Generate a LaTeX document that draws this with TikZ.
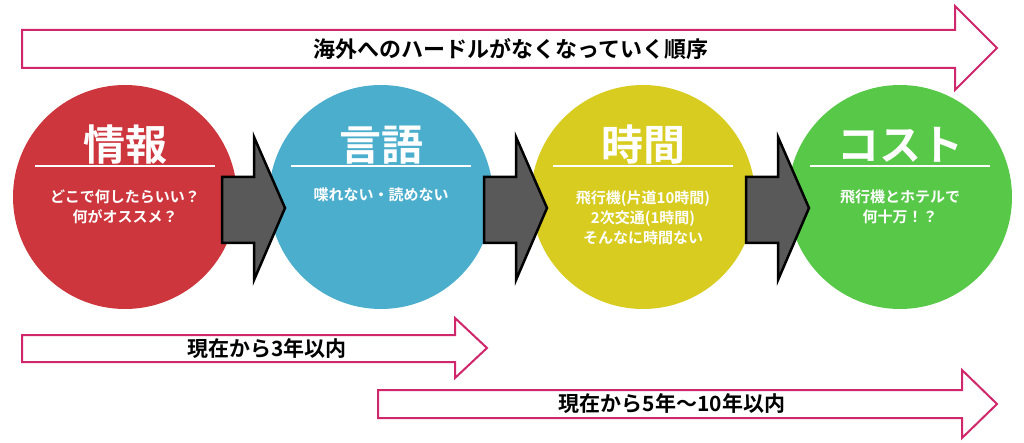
\documentclass[tikz,border=0pt]{standalone}
\usepackage{fontspec}
\newfontfamily\jp{Noto Sans CJK JP}[BoldFont={Noto Sans CJK JP Bold}]
\begin{document}
\begin{tikzpicture}[x=1pt,y=-1pt,
  pk/.style={draw=magenta!70!red!85!black, line width=2pt, fill=white},
  gr/.style={draw=black, line width=2.5pt, fill=black!65},
  circ/.style={circle, minimum size=224pt, inner sep=0pt},
  ttl/.style={font=\jp\bfseries\fontsize{42}{46}\selectfont, text=white},
  sub/.style={font=\jp\bfseries\fontsize{15}{20}\selectfont, text=white, align=center},
  lab/.style={font=\jp\bfseries\fontsize{21}{24}\selectfont}]
\useasboundingbox (0,0) rectangle (1024,443);
% top arrow
\draw[pk] (22,30) -- (955,30) -- (955,6) -- (997,48) -- (955,90) -- (955,68) -- (22,68) -- cycle;
\node[lab, font=\jp\bfseries\fontsize{22}{24}\selectfont] (t1) at (511,49) {海外へのハードルがなくなっていく順序};
% circles
\node[circ, fill={rgb,255:red,204;green,54;blue,60}] (c1) at (125,197) {};
\node[circ, fill={rgb,255:red,76;green,174;blue,205}] (c2) at (381,197) {};
\node[circ, fill={rgb,255:red,216;green,204;blue,32}] (c3) at (643,197) {};
\node[circ, fill={rgb,255:red,88;green,200;blue,72}] (c4) at (900,197) {};
% gray arrows
\foreach \x in {222,484,746}{
  \draw[gr] (\x,177) -- (\x+32,177) -- (\x+32,137) -- (\x+63,208) -- (\x+32,280) -- (\x+32,243) -- (\x,243) -- cycle;}
% titles
\foreach \n/\c/\t in {a/c1/情報,b/c2/言語,c/c3/時間,d/c4/コスト}{
  \node[ttl] (\n) at ([yshift=52pt]\c.center) {\t};
  \draw[white, line width=2pt] ([xshift=-90pt,yshift=31pt]\c.center) -- ([xshift=90pt,yshift=31pt]\c.center);}
\node[sub] (s1) at ([yshift=-10pt]c1.center) {どこで何したらいい？\\何がオススメ？};
\node[sub] (s2) at ([yshift=2pt]c2.center) {喋れない・読めない};
\node[sub] (s3) at ([yshift=-21pt]c3.center) {飛行機(片道10時間)\\2次交通(1時間)\\そんなに時間ない};
\node[sub] (s4) at ([yshift=-10pt]c4.center) {飛行機とホテルで\\何十万！？};
% bottom arrows
\draw[pk] (22,335) -- (455,335) -- (455,318) -- (487,348) -- (455,378) -- (455,362) -- (22,362) -- cycle;
\node[lab] (b1) at (267,349) {現在から3年以内};
\draw[pk] (378,390) -- (962,390) -- (962,370) -- (997,404) -- (962,438) -- (962,418) -- (378,418) -- cycle;
\node[lab] (b2) at (672,404) {現在から5年～10年以内};
\end{tikzpicture}
\end{document}
